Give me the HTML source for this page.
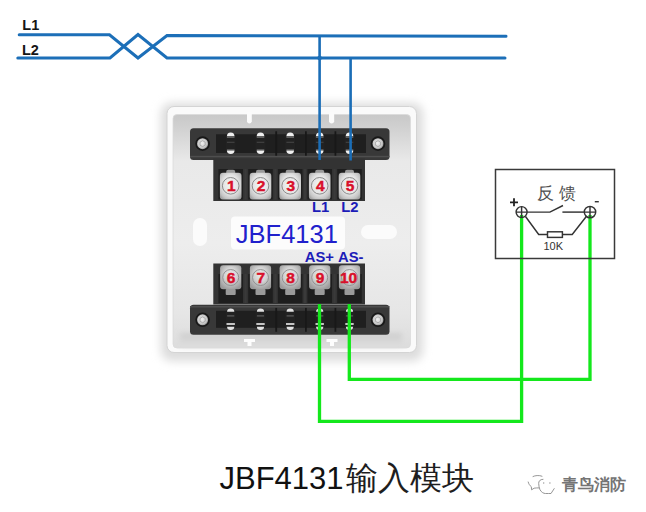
<!DOCTYPE html>
<html><head><meta charset="utf-8">
<style>
html,body{margin:0;padding:0;background:#fff;}
body{width:646px;height:512px;overflow:hidden;position:relative;font-family:"Liberation Sans",sans-serif;}
svg{position:absolute;left:0;top:0;}
.cap{position:absolute;left:219.5px;top:459.5px;font-size:31px;line-height:1.2;color:#111;white-space:nowrap;}
.capz{position:absolute;left:345.5px;top:460px;font-size:31.5px;color:#1e1e1e;white-space:nowrap;line-height:1.2;}
.wm{position:absolute;left:561.5px;top:475px;font-size:16px;font-weight:bold;color:#747474;white-space:nowrap;}
</style></head>
<body>
<svg width="646" height="512" viewBox="0 0 646 512">
<defs>
  <filter id="sh" x="-20%" y="-20%" width="140%" height="140%"><feGaussianBlur stdDeviation="5"/></filter>
  <filter id="bl1" x="-10%" y="-10%" width="120%" height="120%"><feGaussianBlur stdDeviation="0.6"/></filter>
  <filter id="bl2" x="-10%" y="-30%" width="120%" height="160%"><feGaussianBlur stdDeviation="2.5"/></filter>
  <linearGradient id="inner" x1="0" y1="0" x2="0" y2="1">
    <stop offset="0" stop-color="#c8c8c8"/>
    <stop offset="0.065" stop-color="#d2d2d2"/>
    <stop offset="0.2" stop-color="#e9e9e9"/>
    <stop offset="0.55" stop-color="#ededed"/>
    <stop offset="0.85" stop-color="#e6e6e6"/>
    <stop offset="1" stop-color="#dcdcdc"/>
  </linearGradient>
  <radialGradient id="scr" cx="0.45" cy="0.45" r="0.6">
    <stop offset="0" stop-color="#f0f0f0"/>
    <stop offset="0.7" stop-color="#c8c8c8"/>
    <stop offset="1" stop-color="#8a8a8a"/>
  </radialGradient>
  <radialGradient id="sq2" cx="0.5" cy="0.4" r="0.65">
    <stop offset="0" stop-color="#ececec"/>
    <stop offset="0.45" stop-color="#d4d4d4"/>
    <stop offset="0.75" stop-color="#b4b4b4"/>
    <stop offset="1" stop-color="#9a9a9a"/>
  </radialGradient>
  <radialGradient id="sq" cx="0.5" cy="0.45" r="0.65">
    <stop offset="0" stop-color="#f6f6f6"/>
    <stop offset="0.55" stop-color="#e4e4e4"/>
    <stop offset="0.85" stop-color="#c4c4c4"/>
    <stop offset="1" stop-color="#a4a4a4"/>
  </radialGradient>
  <linearGradient id="ush" x1="0" y1="0" x2="0" y2="1">
    <stop offset="0" stop-color="#cdcdcd"/>
    <stop offset="1" stop-color="#dedede"/>
  </linearGradient>
</defs>

<text x="22.3" y="30" font-family="Liberation Sans" font-weight="bold" font-size="14.5" fill="#151515">L1</text>
<text x="22" y="54.5" font-family="Liberation Sans" font-weight="bold" font-size="14.5" fill="#151515">L2</text>
<rect x="161" y="103" width="262" height="258" rx="10" fill="#dcdcdc" filter="url(#sh)"/>
<rect x="167" y="106.5" width="249.5" height="246" rx="7" fill="#fafafa" stroke="#d4d4d4" stroke-width="1"/>
<rect x="173" y="114.5" width="237.5" height="233.5" rx="4" fill="url(#inner)" stroke="#dadada" stroke-width="0.8"/>
<rect x="193" y="218" width="14" height="28" rx="7" fill="#fbfbfb"/>
<rect x="361" y="225" width="36" height="14" rx="7" fill="#fbfbfb"/>
<rect x="180" y="333" width="222" height="13.5" fill="url(#ush)" filter="url(#bl2)"/>
<rect x="231" y="216.5" width="114" height="33" rx="4" fill="#fcfcfc"/>
<path d="M247,112 h4.8 v9.5 q-0.5,2 -2.4,2 q-2,0 -2.4,-2z" fill="#fbfbfb"/>
<path d="M329,112 h5.2 v9.5 q-0.5,2 -2.6,2 q-2,0 -2.6,-2z" fill="#fbfbfb"/>
<rect x="190" y="128.3" width="199.5" height="31.7" rx="3.5" fill="#383838"/>
<rect x="216" y="134.3" width="150" height="18.7" fill="#1f1f1f"/>
<rect x="225.7" y="134.3" width="10" height="18.7" fill="#222"/>
<rect x="255.5" y="134.3" width="10" height="18.7" fill="#222"/>
<rect x="285.2" y="134.3" width="10" height="18.7" fill="#222"/>
<rect x="314.7" y="134.3" width="10" height="18.7" fill="#222"/>
<rect x="344.5" y="134.3" width="10" height="18.7" fill="#222"/>
<rect x="275.3" y="131.3" width="1.8" height="25.7" fill="#181818"/>
<rect x="305" y="131.3" width="1.8" height="25.7" fill="#181818"/>
<rect x="334.5" y="131.3" width="1.8" height="25.7" fill="#181818"/>
<rect x="190" y="155.8" width="199.5" height="1.5" fill="#4e4e4e"/>
<circle cx="202.6" cy="143.65" r="7.3" fill="#181818"/>
<circle cx="202.6" cy="143.65" r="5.5" fill="url(#scr)"/>
<path d="M200.0,142.15 l2.6,-1.5 l2.6,1.5 v3 l-2.6,1.5 l-2.6,-1.5z" fill="none" stroke="#9a9a9a" stroke-width="0.7"/>
<circle cx="378" cy="143.65" r="7.3" fill="#181818"/>
<circle cx="378" cy="143.65" r="5.5" fill="url(#scr)"/>
<path d="M375.4,142.15 l2.6,-1.5 l2.6,1.5 v3 l-2.6,1.5 l-2.6,-1.5z" fill="none" stroke="#9a9a9a" stroke-width="0.7"/>
<path d="M226.89999999999998,136.3 a3.8,3.8 0 0 1 7.6,0 z" fill="#f0f0f0"/>
<rect x="226.89999999999998" y="136.3" width="7.6" height="1.6" fill="#666"/>
<rect x="226.89999999999998" y="141.8" width="7.6" height="0.9" fill="#4a4a4a"/>
<rect x="226.89999999999998" y="149.10000000000002" width="7.6" height="1.3" fill="#5a5a5a"/>
<path d="M226.89999999999998,150.60000000000002 a3.8,3.4 0 0 0 7.6,0 z" fill="#f0f0f0"/>
<path d="M256.7,136.3 a3.8,3.8 0 0 1 7.6,0 z" fill="#f0f0f0"/>
<rect x="256.7" y="136.3" width="7.6" height="1.6" fill="#666"/>
<rect x="256.7" y="141.8" width="7.6" height="0.9" fill="#4a4a4a"/>
<rect x="256.7" y="149.10000000000002" width="7.6" height="1.3" fill="#5a5a5a"/>
<path d="M256.7,150.60000000000002 a3.8,3.4 0 0 0 7.6,0 z" fill="#f0f0f0"/>
<path d="M286.4,136.3 a3.8,3.8 0 0 1 7.6,0 z" fill="#f0f0f0"/>
<rect x="286.4" y="136.3" width="7.6" height="1.6" fill="#666"/>
<rect x="286.4" y="141.8" width="7.6" height="0.9" fill="#4a4a4a"/>
<rect x="286.4" y="149.10000000000002" width="7.6" height="1.3" fill="#5a5a5a"/>
<path d="M286.4,150.60000000000002 a3.8,3.4 0 0 0 7.6,0 z" fill="#f0f0f0"/>
<path d="M315.9,136.3 a3.8,3.8 0 0 1 7.6,0 z" fill="#f0f0f0"/>
<rect x="315.9" y="136.3" width="7.6" height="1.6" fill="#666"/>
<rect x="315.9" y="141.8" width="7.6" height="0.9" fill="#4a4a4a"/>
<rect x="315.9" y="149.10000000000002" width="7.6" height="1.3" fill="#5a5a5a"/>
<path d="M315.9,150.60000000000002 a3.8,3.4 0 0 0 7.6,0 z" fill="#f0f0f0"/>
<path d="M345.7,136.3 a3.8,3.8 0 0 1 7.6,0 z" fill="#f0f0f0"/>
<rect x="345.7" y="136.3" width="7.6" height="1.6" fill="#666"/>
<rect x="345.7" y="141.8" width="7.6" height="0.9" fill="#4a4a4a"/>
<rect x="345.7" y="149.10000000000002" width="7.6" height="1.3" fill="#5a5a5a"/>
<path d="M345.7,150.60000000000002 a3.8,3.4 0 0 0 7.6,0 z" fill="#f0f0f0"/>
<rect x="213.3" y="158.5" width="151.7" height="42.5" fill="#333"/>
<rect x="218.39999999999998" y="169.0" width="24.6" height="30.5" fill="#1e1e1e"/>
<rect x="248.2" y="169.0" width="24.6" height="30.5" fill="#1e1e1e"/>
<rect x="277.9" y="169.0" width="24.6" height="30.5" fill="#1e1e1e"/>
<rect x="307.4" y="169.0" width="24.6" height="30.5" fill="#1e1e1e"/>
<rect x="337.2" y="169.0" width="24.6" height="30.5" fill="#1e1e1e"/>
<rect x="244.5" y="169.0" width="2.2" height="30.5" fill="#3a3a3a"/>
<rect x="274.3" y="169.0" width="2.2" height="30.5" fill="#3a3a3a"/>
<rect x="304.0" y="169.0" width="2.2" height="30.5" fill="#3a3a3a"/>
<rect x="333.5" y="169.0" width="2.2" height="30.5" fill="#3a3a3a"/>
<rect x="226.2" y="169.8" width="9" height="5" rx="2" fill="#9a9a9a"/>
<rect x="219.89999999999998" y="172.8" width="21.6" height="26.6" rx="3" fill="url(#sq)"/>
<circle cx="230.7" cy="185.8" r="8.3" fill="none" stroke="#8a8a8a" stroke-width="1"/>
<rect x="256.0" y="169.8" width="9" height="5" rx="2" fill="#9a9a9a"/>
<rect x="249.7" y="172.8" width="21.6" height="26.6" rx="3" fill="url(#sq)"/>
<circle cx="260.5" cy="185.8" r="8.3" fill="none" stroke="#8a8a8a" stroke-width="1"/>
<rect x="285.7" y="169.8" width="9" height="5" rx="2" fill="#9a9a9a"/>
<rect x="279.4" y="172.8" width="21.6" height="26.6" rx="3" fill="url(#sq)"/>
<circle cx="290.2" cy="185.8" r="8.3" fill="none" stroke="#8a8a8a" stroke-width="1"/>
<rect x="315.2" y="169.8" width="9" height="5" rx="2" fill="#9a9a9a"/>
<rect x="308.9" y="172.8" width="21.6" height="26.6" rx="3" fill="url(#sq)"/>
<circle cx="319.7" cy="185.8" r="8.3" fill="none" stroke="#8a8a8a" stroke-width="1"/>
<rect x="345.0" y="169.8" width="9" height="5" rx="2" fill="#9a9a9a"/>
<rect x="338.7" y="172.8" width="21.6" height="26.6" rx="3" fill="url(#sq)"/>
<circle cx="349.5" cy="185.8" r="8.3" fill="none" stroke="#8a8a8a" stroke-width="1"/>
<g font-family="Liberation Sans" font-weight="bold" font-size="15.5" fill="#d8102a" stroke="#d8102a" stroke-width="0.45" text-anchor="middle">
<text x="231.29999999999998" y="191.3">1</text>
<text x="261.1" y="191.3">2</text>
<text x="290.8" y="191.3">3</text>
<text x="320.3" y="191.3">4</text>
<text x="350.1" y="191.3">5</text>
</g>
<text x="235.8" y="243.2" font-family="Liberation Sans" font-size="25.5" fill="#2020cc">JBF4131</text>
<g font-family="Liberation Sans" font-weight="bold" font-size="14.8" fill="#1c1cb8">
<text x="312" y="212">L1</text><text x="341.3" y="212">L2</text>
<text x="304.8" y="261.8">AS+</text><text x="338" y="261.8">AS-</text>
</g>
<rect x="213.3" y="263.5" width="151.7" height="41" fill="#333"/>
<rect x="218.39999999999998" y="274.0" width="24.6" height="29" fill="#1e1e1e"/>
<rect x="248.2" y="274.0" width="24.6" height="29" fill="#1e1e1e"/>
<rect x="277.9" y="274.0" width="24.6" height="29" fill="#1e1e1e"/>
<rect x="307.4" y="274.0" width="24.6" height="29" fill="#1e1e1e"/>
<rect x="337.2" y="274.0" width="24.6" height="29" fill="#1e1e1e"/>
<rect x="244.5" y="274.0" width="2.2" height="29" fill="#3a3a3a"/>
<rect x="274.3" y="274.0" width="2.2" height="29" fill="#3a3a3a"/>
<rect x="304.0" y="274.0" width="2.2" height="29" fill="#3a3a3a"/>
<rect x="333.5" y="274.0" width="2.2" height="29" fill="#3a3a3a"/>
<rect x="220.1" y="265.2" width="21.2" height="24" rx="3" fill="url(#sq2)"/>
<circle cx="230.7" cy="277.5" r="8" fill="none" stroke="#8c8c8c" stroke-width="0.9"/>
<rect x="225.7" y="289" width="10" height="6" rx="1" fill="#9a9a9a"/>
<rect x="249.9" y="265.2" width="21.2" height="24" rx="3" fill="url(#sq2)"/>
<circle cx="260.5" cy="277.5" r="8" fill="none" stroke="#8c8c8c" stroke-width="0.9"/>
<rect x="255.5" y="289" width="10" height="6" rx="1" fill="#9a9a9a"/>
<rect x="279.59999999999997" y="265.2" width="21.2" height="24" rx="3" fill="url(#sq2)"/>
<circle cx="290.2" cy="277.5" r="8" fill="none" stroke="#8c8c8c" stroke-width="0.9"/>
<rect x="285.2" y="289" width="10" height="6" rx="1" fill="#9a9a9a"/>
<rect x="309.09999999999997" y="265.2" width="21.2" height="24" rx="3" fill="url(#sq2)"/>
<circle cx="319.7" cy="277.5" r="8" fill="none" stroke="#8c8c8c" stroke-width="0.9"/>
<rect x="314.7" y="289" width="10" height="6" rx="1" fill="#9a9a9a"/>
<rect x="338.9" y="265.2" width="21.2" height="24" rx="3" fill="url(#sq2)"/>
<circle cx="349.5" cy="277.5" r="8" fill="none" stroke="#8c8c8c" stroke-width="0.9"/>
<rect x="344.5" y="289" width="10" height="6" rx="1" fill="#9a9a9a"/>
<g font-family="Liberation Sans" font-weight="bold" font-size="15.5" fill="#d8102a" stroke="#d8102a" stroke-width="0.45" text-anchor="middle">
<text x="231.0" y="283.4">6</text>
<text x="260.8" y="283.4">7</text>
<text x="290.5" y="283.4">8</text>
<text x="320.0" y="283.4">9</text>
<text x="348.5" y="283.4">10</text>
</g>
<rect x="190" y="304.8" width="199.5" height="30" rx="3.5" fill="#383838"/>
<rect x="216" y="310.8" width="150" height="17" fill="#1f1f1f"/>
<rect x="225.7" y="310.8" width="10" height="17" fill="#222"/>
<rect x="255.5" y="310.8" width="10" height="17" fill="#222"/>
<rect x="285.2" y="310.8" width="10" height="17" fill="#222"/>
<rect x="314.7" y="310.8" width="10" height="17" fill="#222"/>
<rect x="344.5" y="310.8" width="10" height="17" fill="#222"/>
<rect x="275.3" y="307.8" width="1.8" height="24" fill="#181818"/>
<rect x="305" y="307.8" width="1.8" height="24" fill="#181818"/>
<rect x="334.5" y="307.8" width="1.8" height="24" fill="#181818"/>
<rect x="190" y="306.0" width="199.5" height="1.5" fill="#4e4e4e"/>
<circle cx="202.6" cy="319.8" r="7.3" fill="#181818"/>
<circle cx="202.6" cy="319.8" r="5.5" fill="url(#scr)"/>
<path d="M200.0,318.3 l2.6,-1.5 l2.6,1.5 v3 l-2.6,1.5 l-2.6,-1.5z" fill="none" stroke="#9a9a9a" stroke-width="0.7"/>
<circle cx="378" cy="319.8" r="7.3" fill="#181818"/>
<circle cx="378" cy="319.8" r="5.5" fill="url(#scr)"/>
<path d="M375.4,318.3 l2.6,-1.5 l2.6,1.5 v3 l-2.6,1.5 l-2.6,-1.5z" fill="none" stroke="#9a9a9a" stroke-width="0.7"/>
<path d="M227.1,311.8 a3.6,3.2 0 0 1 7.2,0 z" fill="#e2e2e2"/>
<rect x="227.1" y="315.3" width="7.2" height="1.2" fill="#5e5e5e"/>
<rect x="226.5" y="323.1" width="8.4" height="1.8" fill="#d8d8d8"/>
<path d="M227.1,326.8 a3.6,3.2 0 0 0 7.2,0 z" fill="#e2e2e2"/>
<path d="M256.9,311.8 a3.6,3.2 0 0 1 7.2,0 z" fill="#e2e2e2"/>
<rect x="256.9" y="315.3" width="7.2" height="1.2" fill="#5e5e5e"/>
<rect x="256.3" y="323.1" width="8.4" height="1.8" fill="#d8d8d8"/>
<path d="M256.9,326.8 a3.6,3.2 0 0 0 7.2,0 z" fill="#e2e2e2"/>
<path d="M286.59999999999997,311.8 a3.6,3.2 0 0 1 7.2,0 z" fill="#e2e2e2"/>
<rect x="286.59999999999997" y="315.3" width="7.2" height="1.2" fill="#5e5e5e"/>
<rect x="286.0" y="323.1" width="8.4" height="1.8" fill="#d8d8d8"/>
<path d="M286.59999999999997,326.8 a3.6,3.2 0 0 0 7.2,0 z" fill="#e2e2e2"/>
<path d="M316.09999999999997,311.8 a3.6,3.2 0 0 1 7.2,0 z" fill="#e2e2e2"/>
<rect x="316.09999999999997" y="315.3" width="7.2" height="1.2" fill="#5e5e5e"/>
<rect x="315.5" y="323.1" width="8.4" height="1.8" fill="#d8d8d8"/>
<path d="M316.09999999999997,326.8 a3.6,3.2 0 0 0 7.2,0 z" fill="#e2e2e2"/>
<path d="M345.9,311.8 a3.6,3.2 0 0 1 7.2,0 z" fill="#e2e2e2"/>
<rect x="345.9" y="315.3" width="7.2" height="1.2" fill="#5e5e5e"/>
<rect x="345.3" y="323.1" width="8.4" height="1.8" fill="#d8d8d8"/>
<path d="M345.9,326.8 a3.6,3.2 0 0 0 7.2,0 z" fill="#e2e2e2"/>
<path d="M244.0,339 h11 v3 h-3.5 v4 h-4 v-4 h-3.5z" fill="#fdfdfd"/>
<path d="M326.5,339 h11 v3 h-3.5 v4 h-4 v-4 h-3.5z" fill="#fdfdfd"/>
<g fill="none" stroke="#1c6fb8" stroke-width="3" stroke-linejoin="miter" stroke-linecap="round">
<path d="M19.2,34.8 L109.5,34.8 L138,58 L167,35.6 L506,36.2"/>
<path d="M17.8,58 L110,58 L138,34.5 L167,58 L505,58"/>
</g>
<g fill="none" stroke="#1a6db6" stroke-width="2.6">
<path d="M319.6,36 V160"/><path d="M350.6,58 V160.5"/>
</g>
<circle cx="319.6" cy="58" r="2.3" fill="#1c6fb8"/>
<g fill="none" stroke="#14e81c" stroke-width="3.3" stroke-linejoin="miter">
<path d="M319.5,304 V421.4 H521.6 V215"/>
<path d="M349.3,304 V379.4 H590 V215"/>
</g>
<rect x="495.5" y="169.5" width="119" height="89" fill="none" stroke="#3a3a3a" stroke-width="1.5"/>
<text x="536.5" y="199" font-size="17" fill="#505050">反</text>
<text x="558.5" y="199" font-size="17" fill="#505050">馈</text>
<g stroke="#333" stroke-width="1.45" fill="none">
  <path d="M510,202.3 h8 M514,198.3 v8" stroke-width="1.8" stroke="#222"/>
  <path d="M594.8,201.7 h4"/>
  <circle cx="521.6" cy="212.1" r="5.5"/>
  <path d="M516.1,212.1 h11 M521.6,206.6 v11"/>
  <circle cx="590" cy="212.1" r="5.7"/>
  <path d="M584.3,212.1 h11.4 M590,206.4 v11.4"/>
  <path d="M527.1,212.1 H549.9 L563,205.5"/>
  <path d="M562.4,212.1 H584.3"/>
  <path d="M525.5,216.5 L538.7,234.5 H547.5"/>
  <rect x="547.5" y="231.8" width="14.9" height="5.6"/>
  <path d="M562.4,234.5 H572.2 L586.7,216"/>
</g>
<text x="543.5" y="249.6" font-size="11" fill="#333">10K</text>
<g fill="none" stroke="#8a8a8a" stroke-width="0.9" stroke-linecap="round">
  <path d="M533,476.5 c2,-1 6,-1.5 9,-0.3"/>
  <path d="M528.2,482 c0.5,2 1.5,3.5 3.1,4.7 l0.3,3.1 l2.5,-1.6 c1.5,-0.3 3,-0.3 4.6,-0.3"/>
  <path d="M543,479.3 c-3,0 -4.5,2 -4.3,4.3 c0,2 0.6,4.5 1.3,6.2 c1.5,2.5 3.5,3.7 5.5,3.7 c2,0 4,0 5.5,0 l3.2,-4.9"/>
  <circle cx="543.7" cy="483" r="0.7" fill="#999" stroke="none"/>
  <circle cx="549.9" cy="483" r="0.7" fill="#999" stroke="none"/>
</g>
</svg>
<div class="cap">JBF4131</div><div class="capz">输入模块</div>
<div class="wm">青鸟消防</div>
</body></html>
